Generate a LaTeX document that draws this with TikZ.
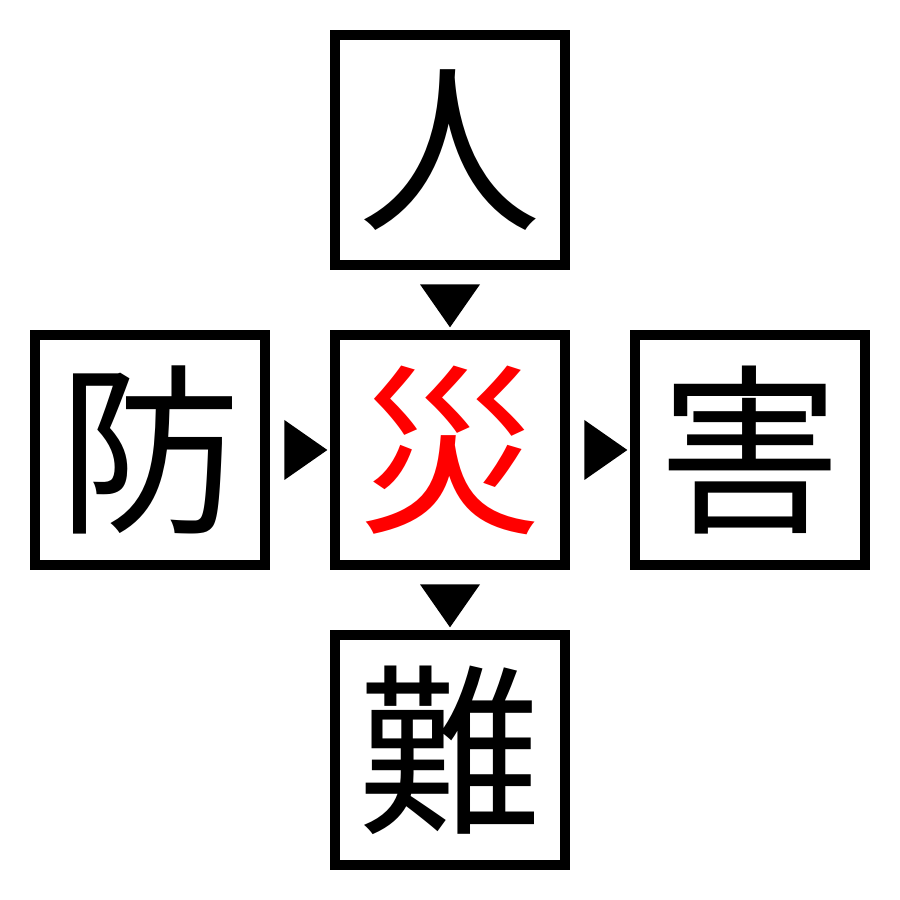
\documentclass[tikz,border=0pt]{standalone}
\usepackage{fontspec}
\newfontfamily\cjk{Noto Sans CJK JP}
\usetikzlibrary{shapes.geometric}

\begin{document}
\begin{tikzpicture}[
    kanji/.style={shape=rectangle,draw=black,line width=0.1cm,minimum size=2.3cm,inner sep=0pt,font=\cjk\fontsize{52pt}{52pt}\selectfont},
    tri/.style={shape=isosceles triangle,fill=black,inner sep=0pt,isosceles triangle stretches,minimum width=0.6cm,minimum height=0.43cm}]
                \useasboundingbox (0,0) rectangle (9,9);
                \node[kanji](ren)at(4.5, 7.5){人};
                \node[kanji](bou)at(1.5, 4.5){防};
                \node[kanji,text=red](sai)at(4.5, 4.5){災};
                \node[kanji](gai)at(7.5, 4.5){害};
                \node[kanji](nan)at(4.5, 1.5){難};
                \path[](ren) edge [draw=none] node [tri,shape border rotate=-90] (a1) {} (sai)
                (bou) edge [draw=none] node [tri,shape border rotate=0] (a2) {} (sai)
                (sai) edge [draw=none] node [tri,shape border rotate=0] (a3) {} (gai)
                (sai) edge [draw=none] node [tri,shape border rotate=-90] (a4) {} (nan);
            \end{tikzpicture}
\end{document}
